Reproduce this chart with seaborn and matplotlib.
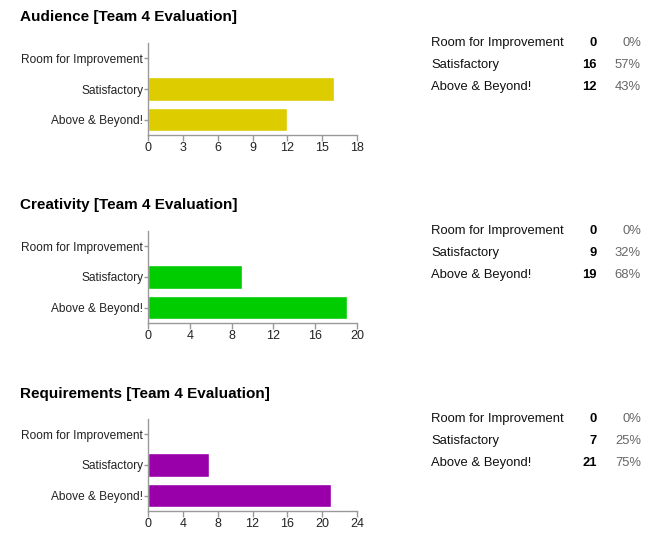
import matplotlib
matplotlib.use("Agg")
from matplotlib import pyplot as plt
import seaborn as sns

# data
categories = ['Room for Improvement', 'Satisfactory', 'Above & Beyond!']
titles = ['Audience [Team 4 Evaluation]',
          'Creativity [Team 4 Evaluation]',
          'Requirements [Team 4 Evaluation]']
audience = [0, 16, 12]
creativity = [0, 9, 19]
requirements = [0, 7, 21]
x_maxes = [18, 20, 24]
x_steps = [3, 4, 4]
bar_colors = ['#DDCC00', '#00CC00', '#9900AA']

sns.set_theme(style="white")
plt.rcParams['font.family'] = ['Liberation Sans', 'DejaVu Sans']

W, H = 666, 544
fig = plt.figure(figsize=(W / 100, H / 100), dpi=100)

# pixel layout of each block (top of axes, bottom of axes, title y, table first row y)
blocks = [(43, 135, 17, 43), (231, 323, 205, 231), (419, 511, 394, 419)]
ax_left, ax_right = 148, 357
axis_grey = '#999999'

all_counts = [audience, creativity, requirements]
for i, counts in enumerate(all_counts):
    top, bottom, title_y, row_y = blocks[i]
    ax = fig.add_axes([ax_left / W, 1 - bottom / H,
                       (ax_right - ax_left) / W, (bottom - top) / H])
    sns.barplot(x=counts, y=categories, color=bar_colors[i], orient='h',
                width=0.77, saturation=1, ax=ax)
    ax.set_xlim(0, x_maxes[i])
    ax.set_ylim(2.5, -0.5)
    ax.set_xticks(range(0, x_maxes[i] + 1, x_steps[i]))
    ax.set_xlabel('')
    ax.set_ylabel('')
    for side in ['top', 'right']:
        ax.spines[side].set_visible(False)
    for side in ['left', 'bottom']:
        ax.spines[side].set_color(axis_grey)
        ax.spines[side].set_linewidth(1)
    ax.tick_params(axis='x', bottom=True, length=4, width=1, color=axis_grey,
                   labelsize=9, pad=1, labelcolor='#222222')
    ax.tick_params(axis='y', left=True, length=3, width=1, color=axis_grey,
                   labelsize=8.6, pad=0.5, labelcolor='#222222')

    fig.text(20 / W, 1 - title_y / H, titles[i], fontsize=11, fontweight='bold',
             va='center', ha='left', color='black')

    total = sum(counts)
    for j, cat in enumerate(categories):
        y = 1 - (row_y + j * 22) / H
        pct = round(100 * counts[j] / total)
        fig.text(431 / W, y, cat, fontsize=9.4, va='center', ha='left', color='#111111')
        fig.text(597 / W, y, str(counts[j]), fontsize=9.4, fontweight='bold',
                 va='center', ha='right', color='black')
        fig.text(641 / W, y, f'{pct}%', fontsize=9.4, va='center', ha='right',
                 color='#666666')

fig.savefig('out.png', dpi=100, facecolor='white')
